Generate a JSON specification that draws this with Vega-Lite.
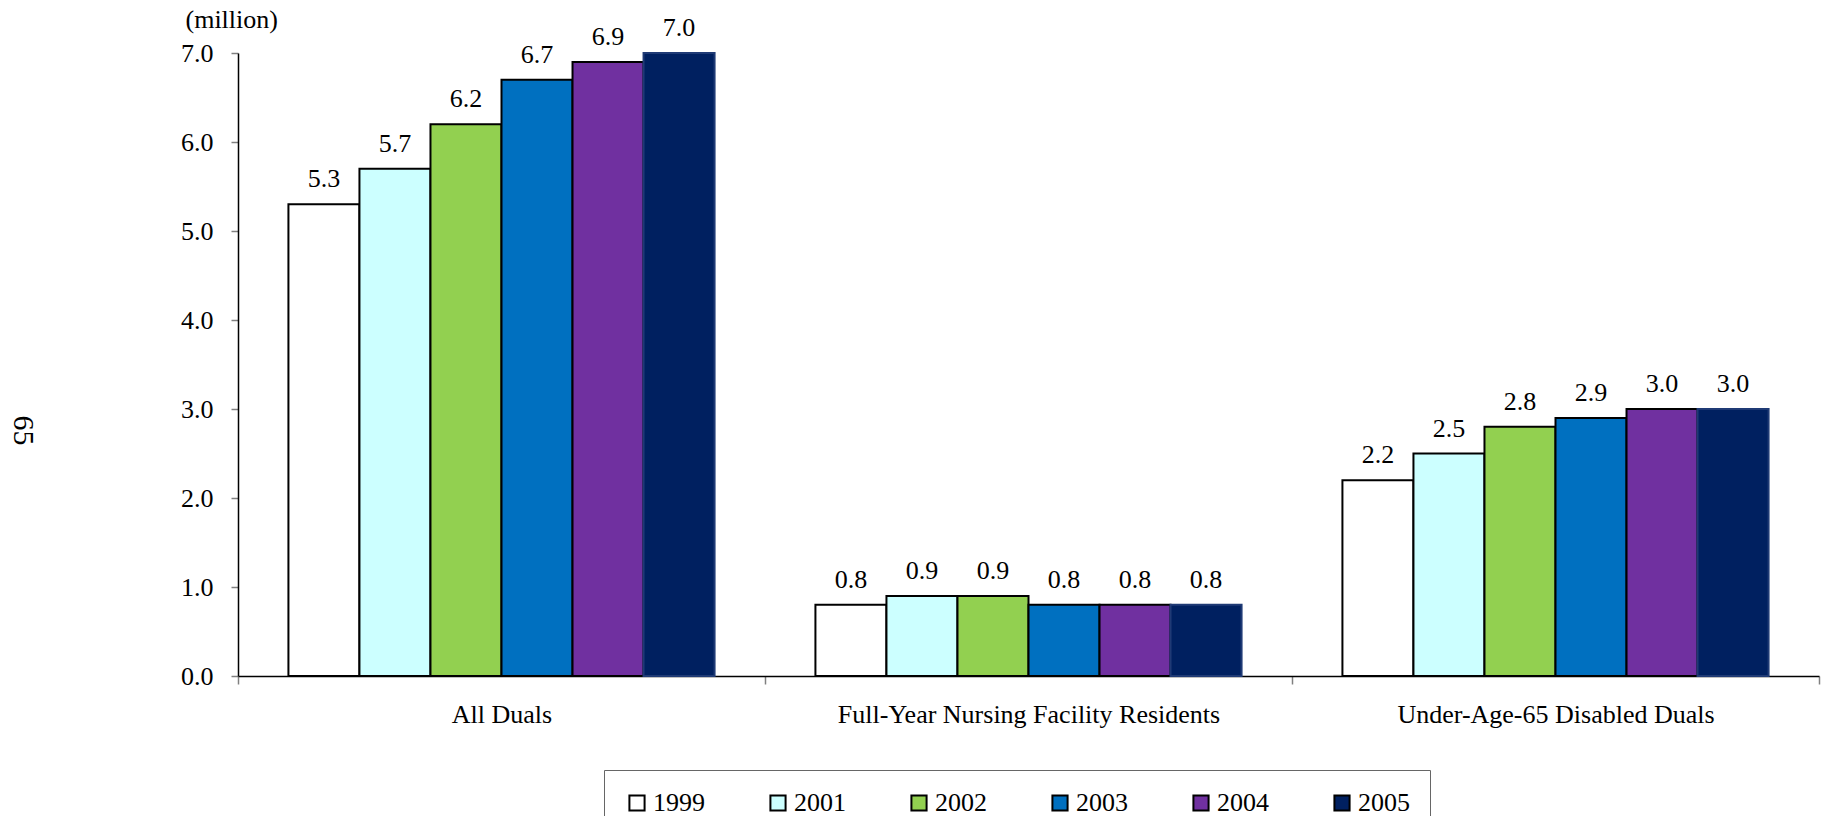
{
  "$schema": "https://vega.github.io/schema/vega-lite/v6.json",
  "autosize": {"type": "none"},
  "width": 1581,
  "height": 623,
  "padding": {"left": 238, "top": 53, "right": 9, "bottom": 140},
  "background": "white",
  "config": {
    "view": {"stroke": null},
    "font": "Liberation Serif",
    "text": {"font": "Liberation Serif"},
    "legend": {"labelFont": "Liberation Serif"},
    "axis": {"labelFont": "Liberation Serif", "labelFontSize": 26, "labelColor": "black", "titleFont": "Liberation Serif", "titleFontWeight": "normal", "titleColor": "black"}
  },
  "data": {"values": [
    {"group": "All Duals", "year": "1999", "value": 5.3},
    {"group": "All Duals", "year": "2001", "value": 5.7},
    {"group": "All Duals", "year": "2002", "value": 6.2},
    {"group": "All Duals", "year": "2003", "value": 6.7},
    {"group": "All Duals", "year": "2004", "value": 6.9},
    {"group": "All Duals", "year": "2005", "value": 7.0},
    {"group": "Full-Year Nursing Facility Residents", "year": "1999", "value": 0.8},
    {"group": "Full-Year Nursing Facility Residents", "year": "2001", "value": 0.9},
    {"group": "Full-Year Nursing Facility Residents", "year": "2002", "value": 0.9},
    {"group": "Full-Year Nursing Facility Residents", "year": "2003", "value": 0.8},
    {"group": "Full-Year Nursing Facility Residents", "year": "2004", "value": 0.8},
    {"group": "Full-Year Nursing Facility Residents", "year": "2005", "value": 0.8},
    {"group": "Under-Age-65 Disabled Duals", "year": "1999", "value": 2.2},
    {"group": "Under-Age-65 Disabled Duals", "year": "2001", "value": 2.5},
    {"group": "Under-Age-65 Disabled Duals", "year": "2002", "value": 2.8},
    {"group": "Under-Age-65 Disabled Duals", "year": "2003", "value": 2.9},
    {"group": "Under-Age-65 Disabled Duals", "year": "2004", "value": 3.0},
    {"group": "Under-Age-65 Disabled Duals", "year": "2005", "value": 3.0}
  ]},
  "encoding": {
    "x": {"field": "group", "type": "nominal", "sort": null,
      "scale": {"paddingInner": 0, "paddingOuter": 0},
      "axis": {"title": "65", "titleFontSize": 30, "titleAngle": 90, "titleX": -216, "titleY": -246, "titleAlign": "center", "titleBaseline": "middle",
        "labelAngle": 0, "domainColor": "black", "domainWidth": 1.5, "tickColor": "#808080", "tickWidth": 1.5, "tickSize": 8, "tickBand": "extent", "labelPadding": 17, "labelBaseline": "top", "labelLimit": 600}},
    "xOffset": {"field": "year", "type": "nominal", "scale": {"paddingInner": 0, "paddingOuter": 0.71}},
    "y": {"field": "value", "type": "quantitative",
      "scale": {"domain": [0, 7], "nice": false},
      "axis": {"values": [0, 1, 2, 3, 4, 5, 6, 7], "format": ".1f", "grid": false, "domainColor": "black", "domainWidth": 1.5, "tickColor": "#808080", "tickWidth": 1.5, "tickSize": 7, "labelPadding": 18,
        "title": "(million)", "titleFontSize": 26, "titleAngle": 0, "titleX": -53, "titleY": -26, "titleAlign": "left", "titleBaseline": "alphabetic"}}
  },
  "layer": [
    {
      "mark": {"type": "bar", "strokeWidth": 2},
      "encoding": {
        "color": {"field": "year", "type": "nominal",
          "scale": {"domain": ["1999", "2001", "2002", "2003", "2004", "2005"], "range": ["#FFFFFF", "#CCFFFF", "#92D050", "#0070C0", "#7030A0", "#002060"]},
          "legend": {"title": null, "orient": "none", "direction": "horizontal", "columns": 6, "legendX": 366, "legendY": 717,
            "padding": 20, "strokeColor": "#666666", "fillColor": "white",
            "symbolType": "square", "symbolSize": 230, "symbolStrokeColor": "black", "symbolStrokeWidth": 2, "symbolOpacity": 1,
            "labelFont": "Liberation Serif", "labelFontSize": 26, "labelColor": "black", "labelOffset": 3, "columnPadding": 60}},
        "stroke": {"condition": {"test": "datum.year === '2005'", "value": "#1f3a75"}, "value": "black"}
      }
    },
    {
      "mark": {"type": "text", "baseline": "alphabetic", "dy": -17, "fontSize": 26, "font": "Liberation Serif", "color": "black"},
      "encoding": {"text": {"field": "value", "type": "quantitative", "format": ".1f"}}
    }
  ]
}
